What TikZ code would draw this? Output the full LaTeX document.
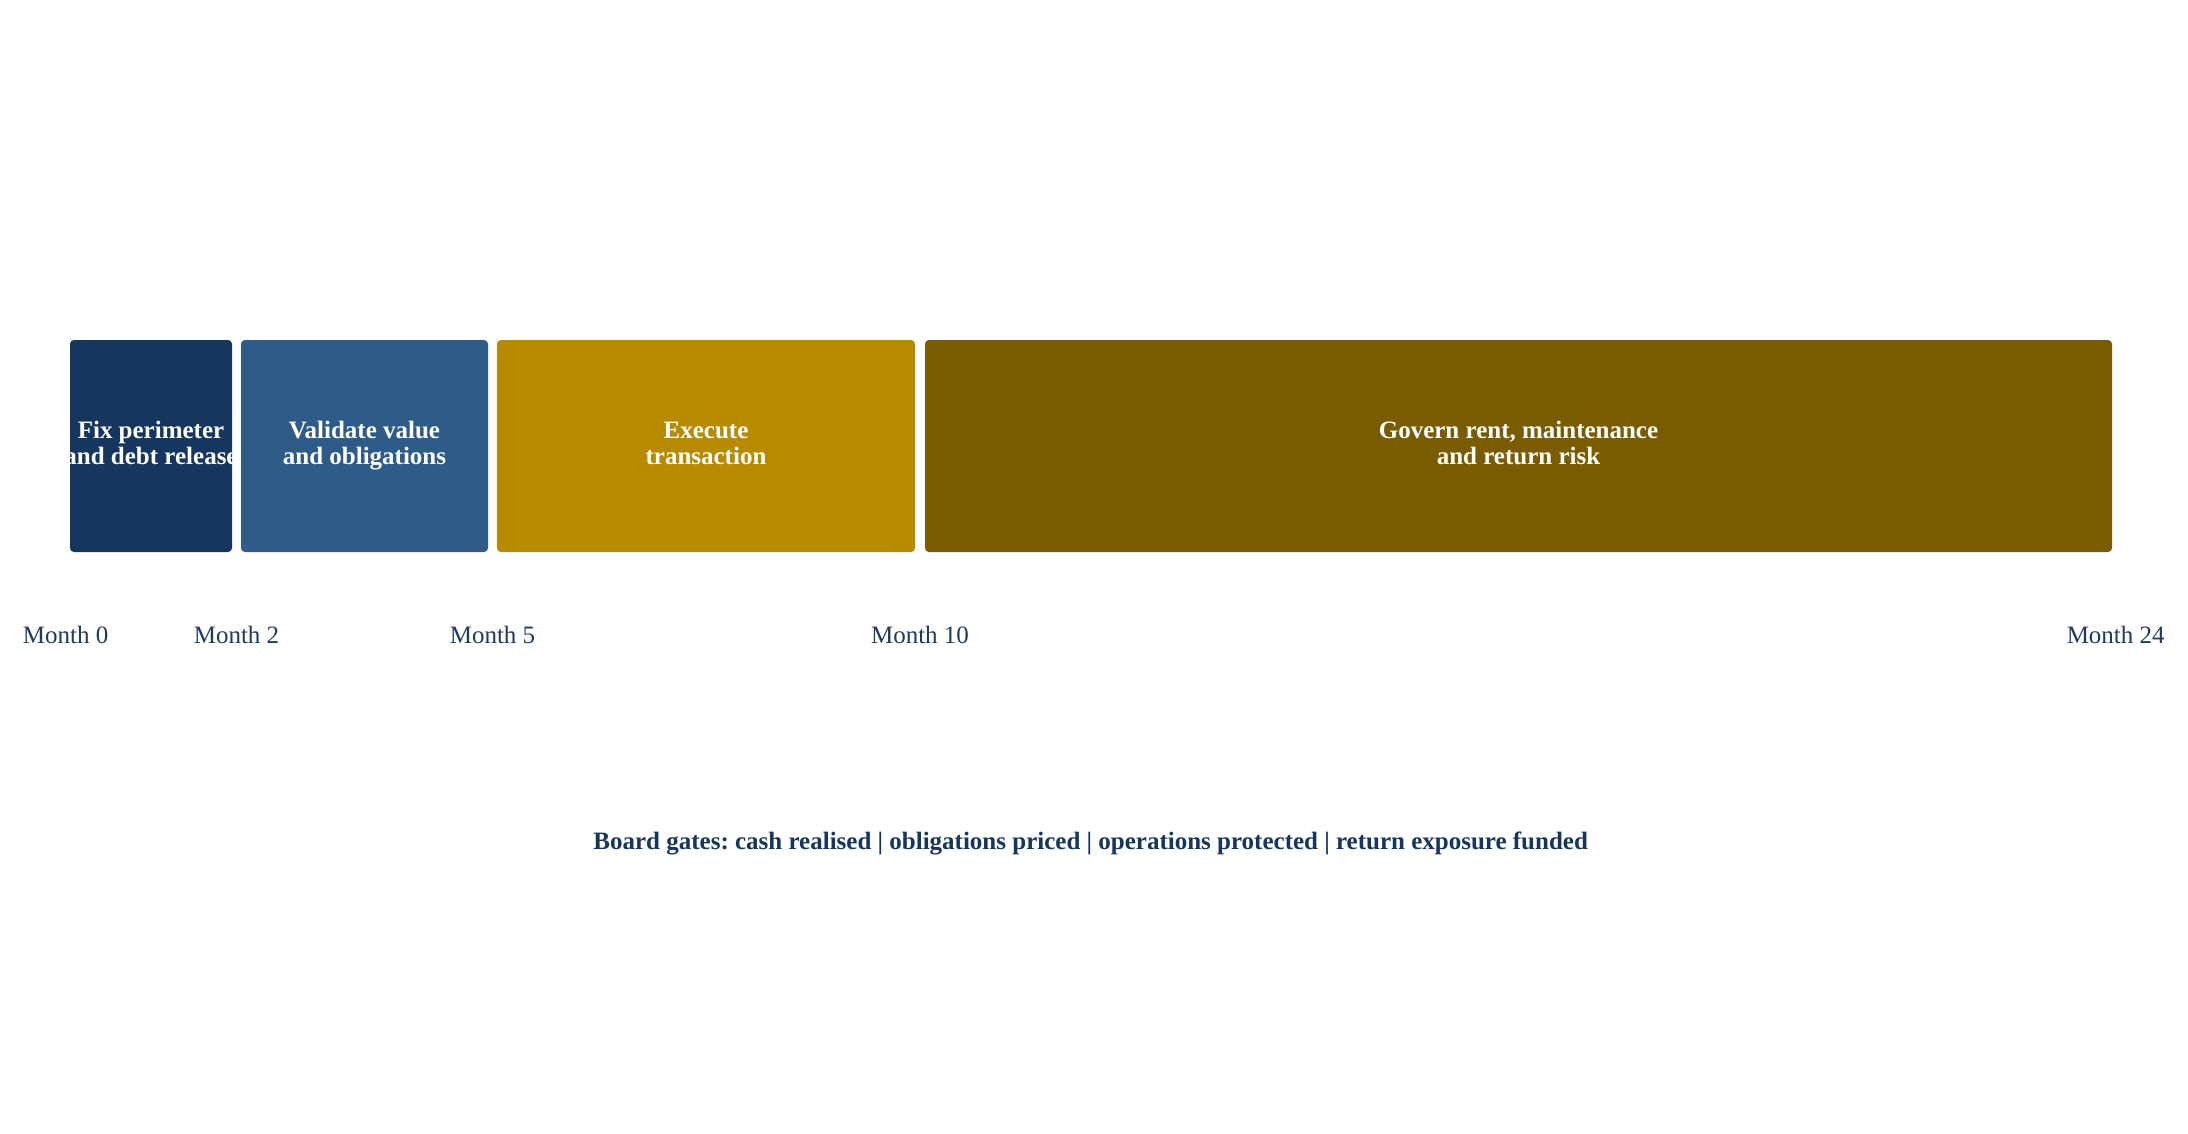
\documentclass[tikz,border=0pt]{standalone}
\usepackage{fontspec}
\setmainfont{Liberation Serif}
\frenchspacing
\definecolor{navyA}{HTML}{17365D}
\definecolor{blueB}{HTML}{2E5B87}
\definecolor{goldC}{HTML}{B88A00}
\definecolor{oliveD}{HTML}{7A5C00}
\definecolor{labtxt}{HTML}{1F3A5F}
\newcommand{\phasetext}[1]{\makebox[0pt][c]{\begin{tabular}{@{}c@{}}#1\end{tabular}}}
\tikzset{
  phase/.style={rectangle, rounded corners=4pt, inner sep=0pt, text=white,
    font=\bfseries\fontsize{25}{26.5}\selectfont, minimum height=212pt},
  monthlab/.style={anchor=base, text=labtxt, inner sep=0pt, font=\fontsize{25}{30}\selectfont},
  gatelab/.style={anchor=base, text=navyA, inner sep=0pt, font=\bfseries\fontsize{25}{30}\selectfont}
}
\renewcommand{\arraystretch}{0.99}
\begin{document}
\begin{tikzpicture}[x=1pt,y=-1pt]
\useasboundingbox (0,0) rectangle (2188,1133);
\fill[white] (0,0) rectangle (2188,1133);
\node[phase, fill=navyA, minimum width=162pt] (p1) at (151,446) {\phasetext{Fix perimeter\\and debt release}};
\node[phase, fill=blueB, minimum width=247pt] (p2) at (364.5,446) {\phasetext{Validate value\\and obligations}};
\node[phase, fill=goldC, minimum width=418pt] (p3) at (706,446) {\phasetext{Execute\\transaction}};
\node[phase, fill=oliveD, minimum width=1187pt] (p4) at (1518.5,446) {\phasetext{Govern rent, maintenance\\and return risk}};
\node[monthlab] (m0) at (65.7,643) {Month 0};
\node[monthlab] (m2) at (236.5,643) {Month 2};
\node[monthlab] (m5) at (492.5,643) {Month 5};
\node[monthlab] (m10) at (920,643) {Month 10};
\node[monthlab] (m24) at (2115.7,643) {Month 24};
\node[gatelab] (gates) at (1090.7,849) {Board gates: cash realised | obligations priced | operations protected | return exposure funded};
\end{tikzpicture}
\end{document}
